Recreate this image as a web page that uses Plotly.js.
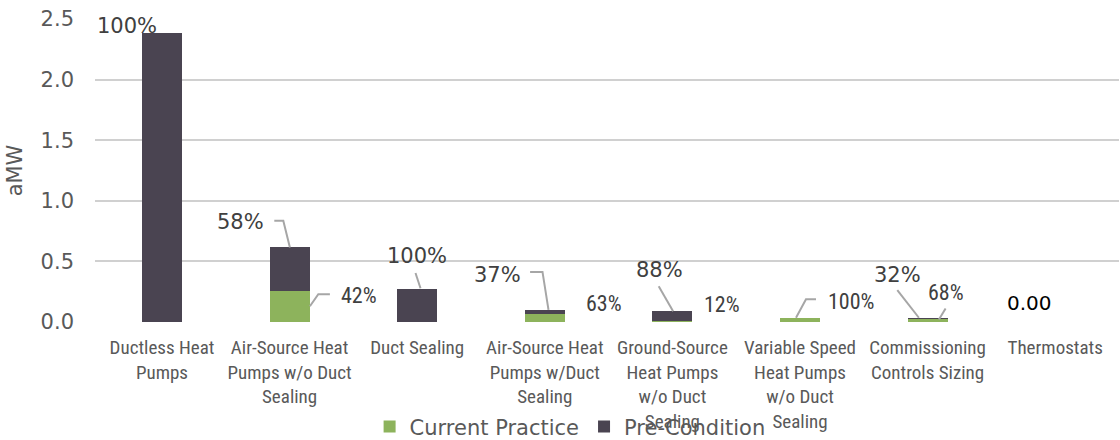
<!DOCTYPE html>
<html>
<head>
<meta charset="utf-8">
<script src="https://cdn.plot.ly/plotly-3.0.1.min.js"></script>
<style>html,body{margin:0;padding:0;background:#fff;}#chart{width:1120px;height:440px;}</style>
</head>
<body>
<div id="chart"></div>
<script>
// ---- data ----
var categories = [
  "Ductless Heat<br>Pumps",
  "Air-Source Heat<br>Pumps w/o Duct<br>Sealing",
  "Duct Sealing",
  "Air-Source Heat<br>Pumps w/Duct<br>Sealing",
  "Ground-Source<br>Heat Pumps<br>w/o Duct<br>Sealing",
  "Variable Speed<br>Heat Pumps<br>w/o Duct<br>Sealing",
  "Commissioning<br>Controls Sizing",
  "Thermostats"
];
var currentPractice = [0, 0.256, 0, 0.063, 0.0106, 0.035, 0.024, 0];
var preCondition    = [2.386, 0.359, 0.276, 0.037, 0.0774, 0, 0.011, 0];
var preLabels = ["100%", "58%", "100%", "37%", "88%", "", "32%", "0.00"];
var curLabels = ["", "42%", "", "63%", "12%", "100%", "68%", ""];
var yTickVals = [0, 0.5, 1.0, 1.5, 2.0, 2.5];
var yTickText = ["0.0", "0.5", "1.0", "1.5", "2.0", "2.5"];

// ---- label placement (styles / pixel offsets only) ----
var preStyle = [
  {dx:-35, dy:7,  kind:'big', path:null},
  {dx:-49, dy:25, kind:'big', path:[[0.3,0],[-6.3,26.6],[-15.3,26.6]]},
  {dx:0,   dy:33, kind:'big', path:[[3.3,0.3],[-1.7,15.6]]},
  {dx:-47, dy:35, kind:'big', path:[[3.7,0],[-2.3,38],[-14.7,38]]},
  {dx:-13, dy:41, kind:'big', path:[[0.7,0],[-13.7,25]]},
  null,
  {dx:-30, dy:43, kind:'big', path:[[-8.7,0],[-30.3,27.7]]},
  {dx:-26, dy:19, kind:'black', path:null}
];
var curStyle = [
  null,
  {dx:69, dy:-5, kind:'small', path:[[20.3,-15.3],[28.7,-3.3],[40.3,-3.3]]},
  null,
  {dx:59.5, dy:11, kind:'small', path:null},
  {dx:50, dy:16, kind:'small', path:null},
  {dx:51, dy:16, kind:'small', path:[[-4,0],[6,18.4],[16,18.4]]},
  {dx:18, dy:27, kind:'small', path:[[11.3,-0.5],[18,10.5]]},
  null
];
var fonts = {
  big:   {family:'DejaVu Sans', size:21, color:'#404040'},
  small: {family:'Roboto Condensed', size:22, color:'#404040'},
  black: {family:'DejaVu Sans', size:20, color:'#000000'}
};

var annotations = [];
var shapes = [];
function addLabel(i, yVal, text, st) {
  if (!st || !text) return;
  annotations.push({
    x: categories[i], y: yVal, xref:'x', yref:'y',
    text: text, showarrow:false, xanchor:'center', yanchor:'middle',
    xshift: st.dx, yshift: st.dy, font: fonts[st.kind]
  });
  if (st.path) {
    var d = st.path.map(function(p, k){ return (k===0?'M':'L') + p[0] + ',' + p[1]; }).join(' ');
    shapes.push({
      type:'path', xref:'x', yref:'y', xsizemode:'pixel', ysizemode:'pixel',
      xanchor: i, yanchor: yVal, path: d,
      line:{color:'#a6a6a6', width:2}, layer:'above'
    });
  }
}
for (var i = 0; i < categories.length; i++) {
  var total = currentPractice[i] + preCondition[i];
  addLabel(i, total, preLabels[i], preStyle[i]);
  addLabel(i, currentPractice[i], curLabels[i], curStyle[i]);
}

var traces = [
  {type:'bar', name:'Current Practice', x:categories, y:currentPractice,
   marker:{color:'#8db35c'}, hoverinfo:'skip'},
  {type:'bar', name:'Pre-Condition', x:categories, y:preCondition,
   marker:{color:'#4a4451'}, hoverinfo:'skip'}
];

var layout = {
  width:1120, height:440,
  margin:{l:95, r:1, t:19, b:118, pad:0},
  paper_bgcolor:'#ffffff', plot_bgcolor:'#ffffff',
  barmode:'stack', bargap:0.6875,
  showlegend:true,
  legend:{orientation:'h', xref:'container', yref:'container',
          x:0.33, xanchor:'left', y:0.03, yanchor:'middle',
          font:{family:'DejaVu Sans', size:21, color:'#595959'},
          bgcolor:'rgba(0,0,0,0)', traceorder:'normal', itemwidth:30},
  xaxis:{type:'category', showgrid:false, zeroline:false, showline:false, ticks:'',
         tickangle:0,
         tickfont:{family:'Roboto Condensed', size:19, color:'#595959'},
         ticklabelstandoff:12, automargin:false},
  yaxis:{range:[0,2.5], tickvals:yTickVals, ticktext:yTickText,
         showgrid:true, gridcolor:'#d0d0d0', gridwidth:2, zeroline:false, showline:false,
         ticks:'', ticklabelstandoff:20,
         tickfont:{family:'DejaVu Sans', size:21, color:'#595959'},
         title:{text:'aMW', font:{family:'DejaVu Sans', size:21, color:'#595959'}, standoff:12},
         automargin:false},
  annotations:annotations,
  shapes:shapes
};

Plotly.newPlot('chart', traces, layout, {staticPlot:true, displayModeBar:false});
</script>
</body>
</html>
